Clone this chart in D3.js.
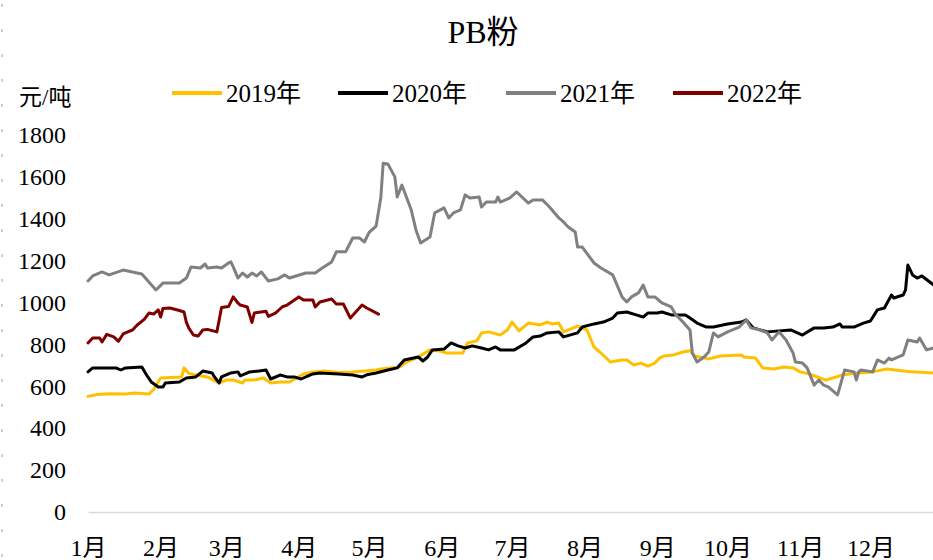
<!DOCTYPE html>
<html>
<head>
	<meta charset="utf-8">
	<script src="https://cdn.jsdelivr.net/npm/d3@7"></script>
	<style>
		html, body {
			padding: 0;
			margin: 0;
			background: white;
		}
		svg text {
			font-family: "Liberation Serif", "Noto Sans CJK SC", serif;
			fill: #000;
		}
	</style>
</head>
<body>
	<div id="chart"></div>

	<script>
		// month labels and the day of year each month starts on
		var monthLabels = ["1月", "2月", "3月", "4月", "5月", "6月", "7月", "8月", "9月", "10月", "11月", "12月"];
		var monthStarts = [0, 31, 59, 90, 120, 151, 181, 212, 243, 273, 304, 334];
		var yTicks = [0, 200, 400, 600, 800, 1000, 1200, 1400, 1600, 1800];
		var seriesNames = ["2019年", "2020年", "2021年", "2022年"];
		var seriesColors = ["#FFC000", "#000000", "#808080", "#800000"];

		// 2019 (day of year, price)
		var days2019 = [0, 4, 9, 16, 20, 26, 28, 31, 40, 41, 43, 47, 51, 55, 56, 59, 62, 66, 67, 71, 75, 78, 82, 86, 89, 92, 96, 101, 107, 113, 123, 125, 133, 136, 141, 146, 150, 153, 160, 162, 166, 168, 171, 176, 179, 181, 184, 188, 193, 196, 198, 201, 203, 209, 213, 216, 219, 223, 228, 230, 233, 236, 239, 242, 244, 246, 250, 254, 257, 259, 265, 270, 279, 280, 285, 288, 293, 297, 301, 304, 308, 315, 318, 322, 328, 335, 341, 350, 361];
		var vals2019 = [552, 561, 565, 563, 568, 563, 585, 640, 645, 688, 662, 652, 645, 621, 616, 630, 630, 616, 630, 630, 640, 616, 621, 621, 640, 659, 669, 673, 666, 669, 678, 683, 692, 716, 740, 774, 769, 759, 759, 807, 817, 855, 860, 845, 869, 907, 865, 902, 893, 907, 898, 902, 860, 888, 869, 788, 759, 716, 726, 726, 702, 711, 697, 711, 735, 745, 750, 764, 770, 745, 731, 745, 750, 740, 735, 688, 683, 692, 688, 669, 659, 630, 640, 654, 664, 669, 683, 671, 664];

		// 2020
		var days2020 = [0, 2, 7, 12, 14, 16, 23, 25, 27, 30, 32, 33, 39, 42, 46, 49, 53, 54, 56, 57, 61, 64, 65, 69, 73, 76, 78, 82, 85, 88, 91, 94, 96, 99, 107, 113, 117, 119, 123, 128, 132, 135, 141, 143, 145, 147, 152, 155, 158, 161, 164, 168, 171, 174, 176, 182, 187, 190, 193, 196, 201, 203, 209, 211, 216, 220, 224, 226, 230, 234, 237, 239, 243, 245, 249, 255, 257, 260, 264, 267, 273, 279, 281, 284, 290, 300, 305, 310, 314, 318, 321, 322, 327, 331, 334, 337, 340, 343, 344, 348, 349, 350, 352, 354, 356, 361];
		var vals2020 = [669, 688, 688, 688, 678, 688, 692, 654, 621, 597, 597, 616, 621, 640, 645, 673, 664, 645, 616, 645, 664, 669, 650, 669, 673, 678, 635, 654, 645, 645, 635, 650, 659, 664, 659, 654, 645, 655, 664, 678, 688, 726, 740, 721, 740, 774, 778, 807, 793, 783, 793, 783, 774, 788, 774, 774, 807, 836, 840, 855, 860, 836, 855, 883, 898, 907, 926, 950, 955, 941, 931, 950, 950, 955, 941, 941, 926, 902, 883, 883, 898, 907, 917, 879, 860, 869, 845, 879, 879, 883, 898, 883, 883, 902, 912, 965, 974, 1036, 1022, 1036, 1060, 1179, 1132, 1117, 1127, 1084];

		// 2021
		var days2021 = [0, 2, 6, 9, 15, 19, 23, 26, 29, 32, 39, 42, 44, 48, 50, 51, 55, 57, 60, 61, 62, 64, 66, 68, 70, 72, 74, 77, 81, 84, 86, 93, 97, 100, 104, 106, 110, 113, 116, 118, 120, 123, 125, 126, 128, 131, 132, 134, 138, 140, 142, 146, 148, 152, 154, 156, 159, 161, 163, 167, 168, 170, 174, 175, 176, 180, 183, 188, 190, 194, 197, 201, 203, 205, 208, 209, 211, 216, 219, 224, 228, 230, 232, 235, 237, 239, 242, 245, 249, 251, 254, 257, 258, 260, 263, 265, 267, 269, 273, 278, 281, 283, 287, 290, 292, 295, 298, 301, 302, 305, 307, 310, 312, 314, 316, 320, 323, 327, 328, 329, 330, 335, 337, 340, 342, 343, 348, 350, 354, 355, 358, 361];
		var vals2021 = [1103, 1127, 1146, 1132, 1155, 1146, 1136, 1098, 1060, 1093, 1093, 1117, 1170, 1165, 1184, 1165, 1170, 1165, 1189, 1194, 1170, 1117, 1141, 1122, 1141, 1127, 1146, 1103, 1113, 1132, 1117, 1141, 1141, 1165, 1194, 1242, 1242, 1308, 1308, 1289, 1335, 1365, 1500, 1665, 1662, 1600, 1504, 1561, 1442, 1347, 1284, 1313, 1428, 1452, 1404, 1428, 1442, 1514, 1499, 1504, 1456, 1480, 1480, 1504, 1480, 1499, 1528, 1475, 1490, 1490, 1456, 1404, 1385, 1361, 1337, 1265, 1265, 1189, 1165, 1132, 1027, 1003, 1027, 1046, 1084, 1027, 1027, 998, 979, 941, 907, 869, 759, 716, 740, 764, 855, 836, 860, 883, 917, 879, 869, 855, 821, 860, 821, 759, 716, 711, 688, 606, 630, 606, 597, 559, 678, 669, 630, 669, 678, 669, 726, 711, 735, 726, 750, 821, 812, 831, 774, 783];

		// 2022
		var days2022 = [0, 2, 5, 6, 8, 11, 13, 15, 17, 19, 21, 24, 26, 28, 30, 31, 32, 35, 39, 41, 42, 43, 45, 47, 49, 51, 53, 55, 56, 57, 60, 62, 64, 65, 68, 70, 71, 76, 77, 80, 83, 85, 90, 92, 96, 97, 99, 104, 106, 109, 112, 117, 119, 124];
		var vals2022 = [807, 831, 831, 812, 848, 836, 815, 850, 860, 869, 893, 920, 950, 945, 965, 931, 972, 974, 962, 955, 905, 879, 845, 840, 869, 872, 866, 860, 917, 976, 981, 1027, 998, 988, 979, 905, 950, 958, 934, 950, 980, 988, 1027, 1012, 1012, 979, 1003, 1017, 993, 993, 926, 988, 974, 945];

		var allDays = [days2019, days2020, days2021, days2022];
		var allVals = [vals2019, vals2020, vals2021, vals2022];

		var width = 933, height = 560;

		var svg = d3.select('#chart').append('svg')
			.attr('width', width)
			.attr('height', height);

		// dotted mark down the left edge
		svg.append('line')
			.attr('x1', 2).attr('x2', 2)
			.attr('y1', 4).attr('y2', height)
			.attr('stroke', '#bfbfbf')
			.attr('stroke-width', 1.5)
			.attr('stroke-dasharray', '3,22');

		var x = d3.scaleLinear().domain([0, 365]).range([88, 943]);
		var y = d3.scaleLinear().domain([0, 1800]).range([512, 135]);

		// title
		svg.append('text')
			.attr('x', 483).attr('y', 43)
			.attr('text-anchor', 'middle')
			.style('font-size', '32px')
			.text('PB粉');

		// unit
		svg.append('text')
			.attr('x', 19).attr('y', 105)
			.style('font-size', '23px')
			.text('元/吨');

		// legend
		var legendX = [172, 338, 506, 673];
		var legend = svg.selectAll('.legend')
			.data(seriesNames)
			.enter().append('g')
			.attr('class', 'legend')
			.attr('transform', function(d, i) { return 'translate(' + legendX[i] + ',93)'; });
		legend.append('line')
			.attr('x1', 0).attr('x2', 50)
			.attr('stroke', function(d, i) { return seriesColors[i]; })
			.attr('stroke-width', 4);
		legend.append('text')
			.attr('x', 54).attr('y', 9)
			.style('font-size', '25px')
			.text(function(d) { return d; });

		// y axis labels
		var yAxis = svg.append('g')
			.attr('transform', 'translate(88,0)')
			.call(d3.axisLeft(y).tickValues(yTicks).tickSize(0).tickPadding(22)
				.tickFormat(d3.format('d')));
		yAxis.select('.domain').remove();
		yAxis.selectAll('text')
			.style('font-size', '24px')
			.style('font-family', '"Liberation Serif", serif');

		// x axis along zero
		var xAxis = svg.append('g')
			.attr('transform', 'translate(0,' + y(0) + ')')
			.call(d3.axisBottom(x).tickValues(monthStarts).tickSize(0).tickPadding(27)
				.tickFormat(function(d, i) { return monthLabels[i]; }));
		xAxis.select('.domain')
			.attr('stroke', '#d9d9d9')
			.attr('stroke-width', 1.5);
		xAxis.selectAll('text')
			.style('font-size', '24px')
			.style('font-family', '"Liberation Serif", "Noto Sans CJK SC", serif');

		var line = d3.line()
			.x(function(d) { return x(d[0]); })
			.y(function(d) { return y(d[1]); });

		svg.selectAll('.series')
			.data(allDays.map(function(days, i) {
				return days.map(function(dd, j) { return [dd, allVals[i][j]]; });
			}))
			.enter().append('path')
			.attr('class', 'series')
			.attr('fill', 'none')
			.attr('stroke', function(d, i) { return seriesColors[i]; })
			.attr('stroke-width', 3)
			.attr('stroke-linejoin', 'round')
			.attr('stroke-linecap', 'round')
			.attr('d', line);
	</script>
</body>
</html>
